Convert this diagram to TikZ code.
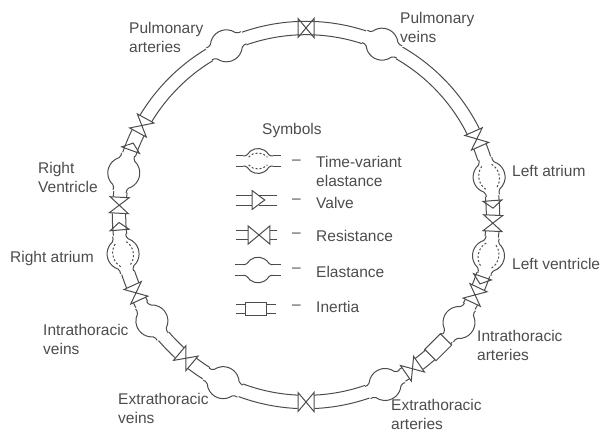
\documentclass[tikz,border=0pt]{standalone}
\usepackage{fontspec}
\setmainfont{Liberation Sans}
\colorlet{inkgray}{black!70}
% Walls of a bulb, shared by both elastance symbols
\newcommand{\bulbwalls}{
    \draw[wall] (-19,6.7) -- (-16.5,6.7) .. controls (-15.5,6.7) and (-14.8,7.2) .. (150:16) arc[start angle=150, end angle=30, radius=16] .. controls (14.8,7.2) and (15.5,6.7) .. (16.5,6.7) -- (19,6.7);
    \draw[wall] (-19,-6.7) -- (-16.5,-6.7) .. controls (-15.5,-6.7) and (-14.8,-7.2) .. (210:16) arc[start angle=210, end angle=330, radius=16] .. controls (14.8,-7.2) and (15.5,-6.7) .. (16.5,-6.7) -- (19,-6.7);
}

\begin{document}
\begin{tikzpicture}[
    x=1bp, y=1bp,
    % Style for the vessel walls and symbols
    wall/.style={line width=1bp, draw=inkgray},
    % Style for the printed labels
    lbl/.style={font=\fontsize{15.5bp}{19bp}\selectfont, text=inkgray, align=left, anchor=west, inner sep=0pt},
    % Symbols, drawn along +x (direction of flow)
    elastance/.pic={
        \bulbwalls
    },
    tvelastance/.pic={
        \bulbwalls
        \draw[wall, dash pattern=on 2bp off 2bp] (-12,5) .. controls (-6,12) and (6,12) .. (12,5);
        \draw[wall, dash pattern=on 2bp off 2bp] (-12,-5) .. controls (-6,-12) and (6,-12) .. (12,-5);
    },
    valve/.pic={
        \draw[wall] (0,-9.5) -- (0,9.5) -- (7.5,0) -- cycle;
    },
    resist/.pic={
        \draw[wall] (-8,9.5) -- (-8,-9.5) -- (8,9.5) -- (8,-9.5) -- cycle;
    },
    inertia/.pic={
        \draw[wall] (-11,-8) rectangle (11,8);
    }
]
\useasboundingbox (0,0) rectangle (601,432);

% --- Ring of vessels ---
\begin{scope}[shift={(306,217)}]
% Tube pieces, as pairs of angles
\foreach \a/\b in {87.5/71.9, 60.1/26.5, 21.5/17.6, 5.8/4.4, 4.4/0, -5/-6.7, -18.5/-19.3, -19.3/-22.8, -27.8/-29.2,
                   -41/-41.6, -48.4/-52.8, -57.8/-59.1, -70.9/-87.5, -92.5/-110.4, -122.2/-127.5, -132.5/-139.6,
                   -151.4/-152.9, -157.9/-162.1, -173.9/-175.4, -175.4/-180.5, -185.5/-187.1, -198.9/-200.3,
                   -200.3/-206.1, -211.1/-238.9, -250.7/-272.5}{
    \draw[wall] (\a:193.7) arc[start angle=\a, end angle=\b, radius=193.7];
    \draw[wall] (\a:180.3) arc[start angle=\a, end angle=\b, radius=180.3];
}
% Symbols on the ring
\foreach \a/\s in {90/resist, 66/elastance, 24/resist, 11.7/tvelastance, 4.4/valve, -2.5/resist,
                   -12.6/tvelastance, -19.3/valve, -25.3/resist, -35.1/elastance, -45/inertia, -55.3/resist,
                   -65/elastance, -90/resist, -116.3/elastance, -130/resist, -145.5/elastance, -155.4/resist,
                   -168/tvelastance, -175.4/valve, -183/resist, -193/elastance, -200.3/valve, -208.6/resist,
                   -244.8/elastance}{
    \pic[rotate=\a-90] at (\a:187) {\s};
}
\end{scope}

% --- Ring labels ---
\node[lbl] (pa) at (129,395) {Pulmonary\\arteries};
\node[lbl] (pv) at (400,405) {Pulmonary\\veins};
\node[lbl] (rv) at (38,255) {Right\\Ventricle};
\node[lbl] (ra) at (10,174) {Right atrium};
\node[lbl] (la) at (512,261) {Left atrium};
\node[lbl] (lv) at (512,168) {Left ventricle};
\node[lbl] (iv) at (43,93) {Intrathoracic\\veins};
\node[lbl] (ev) at (118,24) {Extrathoracic\\veins};
\node[lbl] (ia) at (477,87) {Intrathoracic\\arteries};
\node[lbl] (ea) at (391,18) {Extrathoracic\\arteries};

% --- Legend ---
\node[lbl] (sym) at (262,302) {Symbols};
\node[lbl] (ltv) at (316,261) {Time-variant\\elastance};
\node[lbl] (lva) at (316,229) {Valve};
\node[lbl] (lre) at (316,196) {Resistance};
\node[lbl] (lel) at (316,160) {Elastance};
\node[lbl] (lin) at (316,125) {Inertia};
\foreach \y/\n in {270/dtv, 231/dva, 197/dre, 162/del, 125/din}
    \node[lbl] (\n) at (292,\y) {–};

\pic[scale=0.78] at (258,271) {tvelastance};
\draw[wall] (236,276.5) -- (243,276.5) (273,276.5) -- (281,276.5) (236,265.5) -- (243,265.5) (273,265.5) -- (281,265.5);

\pic[xscale=1.7] at (252,232) {valve};
\draw[wall] (236,237) -- (252,237) (236,227) -- (252,227) (258.5,237) -- (277,237) (258.5,227) -- (277,227);

\pic[xscale=1.35, yscale=0.95] at (259,197) {resist};
\draw[wall] (236,201.5) -- (248,201.5) (236,192.5) -- (248,192.5) (270,201.5) -- (277,201.5) (270,192.5) -- (277,192.5);

\pic[scale=0.8] at (258,162) {elastance};
\draw[wall] (235,167.4) -- (243,167.4) (235,156.6) -- (243,156.6) (273,167.4) -- (281,167.4) (273,156.6) -- (281,156.6);

\pic[xscale=0.95, yscale=0.85] at (256,123) {inertia};
\draw[wall] (236,127.7) -- (245.5,127.7) (236,118.3) -- (245.5,118.3) (266.5,127.7) -- (276,127.7) (266.5,118.3) -- (276,118.3);

\end{tikzpicture}
\end{document}
